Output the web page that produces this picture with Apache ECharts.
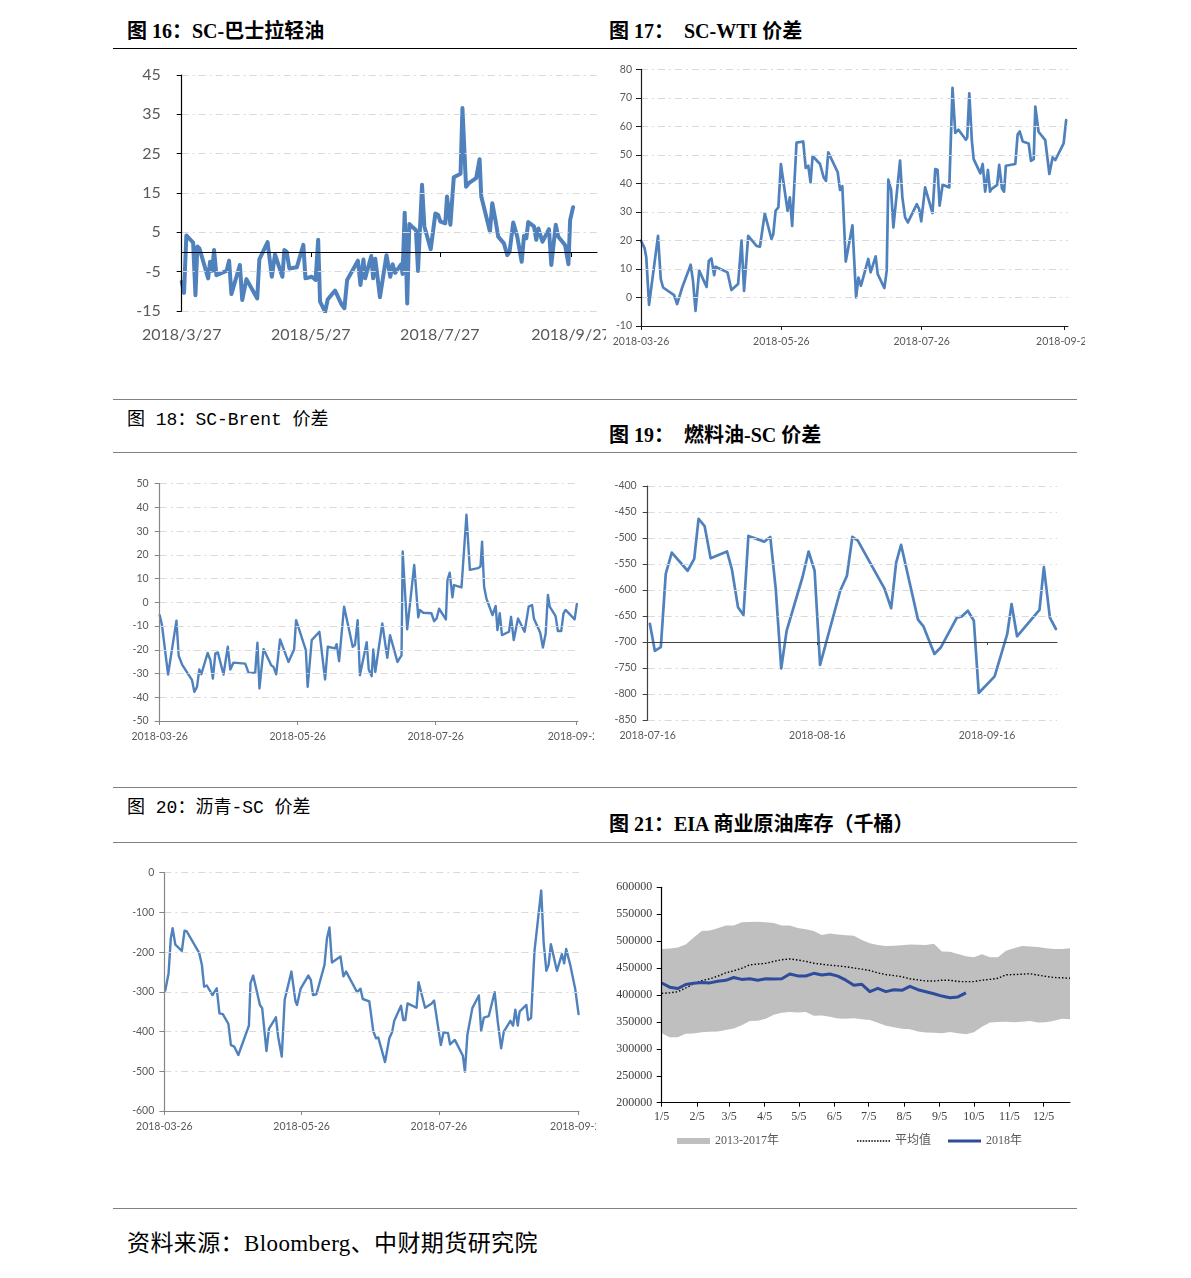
<!DOCTYPE html>
<html><head><meta charset="utf-8">
<script src="https://cdn.jsdelivr.net/npm/echarts@6/dist/echarts.min.js"></script>
<style>
html,body{margin:0;padding:0;background:#fff}
body{width:1191px;height:1278px;position:relative;overflow:hidden}
.t{position:absolute;white-space:nowrap;color:#000;line-height:1}
.tb{font-family:"Liberation Serif","Noto Sans CJK SC",serif;font-weight:bold;font-size:20px}
.tm{font-family:"Liberation Mono","Noto Sans CJK SC",monospace;font-size:18px}
.ft{font-family:"Liberation Serif","Noto Sans CJK SC",serif;font-size:23px;letter-spacing:0.4px}
.rule{position:absolute;left:113px;width:964px;height:0}
.c{position:absolute}
</style></head><body>
<div class="t tb" style="left:127px;top:21px">图 16：SC-巴士拉轻油</div>
<div class="t tb" style="left:609px;top:21px">图 17：&nbsp;&nbsp;SC-WTI 价差</div>
<div class="rule" style="top:48px;border-top:1.5px solid #000"></div>
<div class="rule" style="top:399px;border-top:1.5px solid #808080"></div>
<div class="t tm" style="left:127px;top:411px">图 18：SC-Brent 价差</div>
<div class="t tb" style="left:609px;top:425px">图 19：&nbsp;&nbsp;燃料油-SC 价差</div>
<div class="rule" style="top:452px;border-top:1.7px solid #808080"></div>
<div class="rule" style="top:787px;border-top:1.5px solid #808080"></div>
<div class="t tm" style="left:127px;top:799px">图 20：沥青-SC 价差</div>
<div class="t tb" style="left:609px;top:814px">图 21：EIA 商业原油库存（千桶）</div>
<div class="rule" style="top:842px;border-top:1.7px solid #808080"></div>
<div class="rule" style="top:1208px;border-top:1.7px solid #808080"></div>
<div class="t ft" style="left:127px;top:1232px">资料来源：Bloomberg、中财期货研究院</div>

<div id="c16" class="c" style="left:113px;top:55px;width:493px;height:300px"></div>
<div id="c17" class="c" style="left:606px;top:55px;width:479px;height:300px"></div>
<div id="c18" class="c" style="left:113px;top:460px;width:481px;height:290px"></div>
<div id="c19" class="c" style="left:606px;top:460px;width:480px;height:290px"></div>
<div id="c20" class="c" style="left:113px;top:850px;width:483px;height:290px"></div>
<div id="c21" class="c" style="left:606px;top:860px;width:480px;height:300px"></div>

<script>
// ---------- DATA ----------
// [days since first tick date, value]
const scBasrah = [[0,-7.6],[1.1,-10.4],[2.2,4.2],[5.4,2.4],[6.5,-11],[7.4,1.4],[8.4,0.9],[12.5,-6.7],[13.4,-2.5],[14.4,-4.8],[15.3,0.5],[16.4,-5.9],[21.2,-4.8],[22.4,-2.2],[23.5,-10.7],[27.5,-3.3],[28.6,-12.2],[30.6,-6.9],[35.7,-11.8],[36.7,-1.9],[40.6,2.5],[42.6,-6.3],[44.1,-0.6],[47.6,-6.3],[48.5,0.5],[49.6,0.1],[50.9,-4.2],[54.4,-3.9],[57.5,1.8],[58.5,-6.7],[61.5,-6.3],[63.3,-7.1],[64.5,3.1],[65.4,-12.6],[67.8,-15.2],[69,-12.1],[72.5,-9.8],[75.7,-13.5],[76.9,-14.3],[78.2,-7.1],[83.3,-2.2],[84.5,-8.4],[85.9,-1.9],[86.7,-6.7],[89.6,-1],[90.5,-6.7],[91.5,-1.7],[93.7,-11.5],[96.8,-0.8],[98.6,-6.3],[99.7,-3.1],[100.9,-5.3],[103.8,-3.1],[104.4,-5.6],[105.4,10],[106.6,-13.1],[107.6,7.1],[108.8,6.5],[110.7,5.6],[111.7,-4.8],[113.6,17.1],[114.7,6.5],[117.7,0.7],[119.9,9.8],[121.2,9.4],[122.3,7.7],[124.6,7.3],[125.4,14.1],[127,6.9],[128.6,19],[131.8,19.9],[132.7,36.6],[134.4,16.6],[135.7,17.5],[139.2,18.8],[140.8,23.6],[141.6,14.1],[145.7,5.2],[146.8,12.4],[148.3,8.1],[149.6,3.9],[152.3,2.2],[153.9,-0.8],[155,0.1],[156.7,7.5],[158.6,3.9],[160.7,-2.5],[161.8,4.1],[162.9,3.5],[163.8,7.6],[166.5,6.5],[167.6,3.1],[168.6,6],[170.5,2.6],[173.6,5.8],[174.7,-3.3],[176.8,6.9],[178,3.9],[181.2,1.8],[182.8,-3.1],[183.6,8.1],[185,11.4]];
const scWti = [[0,19.9],[1.6,17.2],[2.3,14],[3.5,-2.6],[7.4,21.6],[8.6,6.4],[9.6,3.5],[14.4,0.8],[15.7,-2.3],[16.5,-1.8],[17.9,3.5],[18.7,3.3],[21.6,11.5],[22.6,5.8],[23.7,-4.7],[25.3,9.4],[28.5,3.7],[29.5,12.9],[30.6,13.7],[31.8,7.8],[32.4,10.8],[37.6,8.8],[39.3,2.6],[42.2,4.7],[43.7,19.9],[44.8,2.3],[46.6,21.6],[50.2,18.1],[51.7,17.8],[53.8,29.5],[56.7,20.5],[57.5,22.2],[58.5,30.4],[59.7,31.6],[60.8,46.8],[63.7,30.4],[64.7,35.1],[65.7,25.1],[67.6,54.3],[70.5,54.7],[71.6,45.4],[72.7,46.2],[73.7,40.4],[74.6,49.6],[77.8,46.8],[79.4,42.1],[80.4,40.9],[81.4,50.9],[85.5,43.9],[86.5,37.7],[87.5,39],[89,12.6],[91.9,25.3],[93.5,0],[94.5,7],[95.6,4.1],[98.8,13.5],[99.8,8.8],[102,14.4],[102.9,8.2],[105.8,3.3],[106.8,9.4],[107.5,41.3],[108.7,37.7],[109.7,24.6],[112.6,48],[113.6,35.1],[114.8,28.1],[116,26.3],[119.9,32.7],[120.9,31],[121.8,26.7],[123.5,38.6],[126.7,29.6],[127.9,45],[128.9,44.8],[129.8,32.2],[131.1,39.5],[134,38.6],[135.4,73.5],[136.6,57.7],[138,58.8],[141.2,55.3],[141.8,56.1],[142.7,71.6],[143.8,55.1],[144.6,48.5],[147.5,43.5],[148.5,46.8],[149.6,37.1],[150.8,44.7],[151.7,37.1],[152.3,38],[154.8,39.5],[155.7,46.5],[156.9,38.2],[157.8,37.1],[158.6,46.2],[162.7,46.8],[163.7,57.1],[164.6,58.2],[165.9,54.7],[168.5,54],[169.5,47.9],[170.7,48.5],[171.4,66.9],[172.8,58.1],[175.7,55.2],[177.5,43.3],[178.9,49.1],[180.1,48.2],[183.7,54],[184.8,62.2]];
const scBrent = [[0,-5.4],[1,-9.6],[3.7,-30.4],[7.4,-7.7],[8.4,-22.5],[9.9,-26.2],[14.3,-32.8],[15.3,-37.7],[16.5,-35.6],[17.5,-28.3],[18.4,-30.3],[21.2,-21.3],[22.4,-24.4],[23.5,-32.1],[24.6,-21.5],[25.7,-21.1],[28.2,-30.4],[30.1,-18.7],[31.2,-28.3],[32.6,-25.4],[37.8,-25.8],[39.3,-29.7],[42.2,-29.6],[43.2,-17],[44.1,-36.3],[45.9,-19.7],[49.3,-26.5],[50.3,-27.2],[51.5,-30.3],[53.2,-15.6],[56.9,-25.1],[59.4,-19.9],[60.3,-7.5],[64.6,-20.1],[65.4,-35.6],[67.2,-15.9],[70.6,-12.4],[73.1,-32.5],[74.3,-18.7],[77.5,-19.4],[78.2,-17.6],[79.3,-24.8],[81.5,-1.8],[85.3,-18.7],[86.3,-18],[87.5,-7.5],[88.5,-30.7],[91.5,-16.8],[92.4,-28.3],[93.7,-31.1],[94.4,-19.9],[95.3,-29.3],[98.4,-8.9],[100.6,-23.4],[101.8,-13.8],[102.5,-14.5],[105.1,-25.1],[106.9,-22.3],[107.4,21.4],[109.4,-11.4],[112.5,15.8],[114.3,-6.3],[115,-3.2],[116.5,-4.4],[120.1,-4.6],[121.3,-7.9],[122.4,-6.8],[123.5,-2.7],[126.5,-7.2],[127.2,9.4],[128.2,12.5],[129.4,2.1],[130.1,7.3],[133.4,6.3],[135.6,36.9],[137.1,13.7],[140.7,14.4],[141.8,15.1],[142.5,25.6],[143.4,6.6],[144.4,1.7],[147.1,-5.4],[148.5,-1.5],[149.3,-11.7],[150.3,-4.6],[151.3,-13.8],[154.4,-12.4],[155.3,-6.1],[156.5,-15.9],[158.4,-6.8],[161.3,-12.4],[163.1,-1.8],[164.6,-1.1],[165.4,-6.8],[168.2,-12.8],[169.4,-19],[170.6,-13.1],[171.6,3.1],[172.4,-1.8],[175,-5.8],[176,-12.1],[177.5,-12.1],[178.5,-4.6],[179.4,-3.2],[183.4,-7.2],[184.4,-0.7]];
const fuelSc = [[0.4,-665],[1.3,-717],[2.4,-710],[3.3,-569],[4.4,-528],[7.3,-563],[8.5,-540],[9.3,-463],[10.4,-477],[11.5,-539],[14.5,-526],[15.4,-561],[16.5,-633],[17.5,-648],[18.4,-496],[21.3,-507],[22.4,-498],[23.4,-598],[24.4,-751],[25.4,-678],[28.3,-575],[29.4,-526],[30.5,-563],[31.5,-744],[35.2,-601],[36.4,-573],[37.4,-498],[38.4,-505],[43.3,-598],[44.5,-635],[45.4,-548],[46.3,-513],[49.4,-657],[50.4,-670],[52.4,-723],[53.6,-710],[56.5,-653],[57.4,-651],[58.5,-640],[59.6,-659],[60.5,-798],[63.4,-766],[65.7,-685],[66.5,-627],[67.5,-689],[71.6,-638],[72.4,-556],[73.5,-653],[74.6,-675]];
const asphaltSc = [[0.4,-297],[1.9,-253],[2.9,-165],[3.7,-140],[4.9,-181],[7.8,-197],[9,-146],[10,-148],[15.5,-202],[16.7,-232],[17.7,-287],[18.9,-284],[21.4,-308],[23.3,-291],[24.5,-354],[26,-356],[28.5,-381],[29.6,-434],[31.1,-438],[32.9,-459],[37.6,-385],[38.3,-278],[39.5,-259],[42.5,-333],[43.5,-341],[45.4,-449],[46.5,-393],[49.6,-364],[50.6,-413],[51.3,-408],[52.2,-463],[53.5,-320],[56.5,-249],[58.3,-324],[59,-333],[60.6,-292],[64,-259],[65.1,-270],[66.1,-308],[67.6,-306],[71.2,-232],[72.3,-165],[73.4,-138],[74.5,-226],[78.3,-211],[79.6,-261],[80.8,-249],[85.7,-301],[87.2,-292],[88.2,-318],[91.1,-324],[92.9,-400],[94.1,-417],[95.1,-415],[98.1,-477],[100,-417],[101.2,-402],[102.2,-373],[105.2,-335],[106.2,-371],[107.1,-371],[108.1,-329],[112.1,-340],[113,-276],[115.9,-340],[118.7,-330],[119.9,-322],[122.9,-434],[124.1,-402],[126.1,-404],[127,-432],[129.1,-421],[132.7,-461],[133.6,-501],[134.7,-408],[136.9,-341],[139.8,-309],[140.8,-398],[142,-365],[144.2,-361],[146.8,-301],[148.2,-375],[149.7,-442],[150.9,-400],[153.8,-373],[155,-385],[156,-345],[157.1,-385],[157.9,-350],[160.9,-333],[161.7,-371],[163,-366],[164.5,-198],[167.5,-45],[168.6,-177],[169.8,-247],[170.8,-232],[171.8,-180],[174.5,-247],[176.7,-205],[177.7,-228],[178.6,-192],[180.4,-232],[182.6,-292],[184.1,-356]];

// EIA weekly (week index from 1/5)
const eiaMax2013_2017 = [485400,486500,488000,494000,507000,519000,520000,524000,529000,529000,535000,535500,536000,535000,533500,529000,529000,524500,522000,519000,511500,514000,512500,511000,510000,502000,496000,493000,491000,491500,492300,494000,493500,493000,495000,481000,480500,476000,472000,470000,475500,470000,470000,482000,487000,491000,490000,489000,487000,485500,485500,486700];
const eiaMin2013_2017 = [328800,321400,321400,328000,328500,331000,331900,332000,335000,338000,343700,351500,352300,356000,363500,367200,368400,367500,368400,361600,361800,359500,356500,356000,356600,355000,353400,348600,343000,340000,337500,336300,332000,330500,330000,328800,331500,329000,326900,331000,341000,349000,350000,350400,349500,350500,351700,349000,349500,352000,356000,354800];
const eiaAvg = [403100,404000,406000,413000,421000,426800,430000,435000,441000,445000,449500,456000,457500,458800,462500,465500,467000,465000,462500,459000,457000,455500,454000,452500,450200,448000,445500,441000,438000,436000,434000,430000,428000,426000,426000,427500,427500,425000,424800,424800,427500,429000,431000,437500,438000,438500,439500,437000,434500,432500,432000,431000];
const eia2018 = [422300,414500,412000,419500,421800,423000,422500,425500,427200,432500,429000,430300,427500,430000,429500,430300,439000,435500,435300,440300,437200,439000,435000,427500,418000,419800,406200,412400,406200,409600,408700,416100,409800,406000,402300,398000,395000,396500,404000];

// tick positions (days) and labels
const ticks26 = [0,61,122,184];
const labels16 = ['2018/3/27','2018/5/27','2018/7/27','2018/9/27'];
const labels26 = ['2018-03-26','2018-05-26','2018-07-26','2018-09-26'];
const ticks19 = [0,31,62];
const labels19 = ['2018-07-16','2018-08-16','2018-09-16'];
const ticks21 = [0,31,59,90,120,151,181,212,243,273,304,334];
const labels21 = ['1/5','2/5','3/5','4/5','5/5','6/5','7/5','8/5','9/5','10/5','11/5','12/5'];

// ---------- CHARTS ----------
const BLUE = '#4f81bd';
const GRIDLINE = {color:'#d9d9d9', width:1, type:[7,4,2,4]};

function mk(id, c){
  const ch = echarts.init(document.getElementById(id), null, {renderer:'canvas'});
  const lab = {color:c.labColor||'#595959', fontFamily:c.font||'Lato', fontSize:c.fs||10.5};
  const fmt = v => { const i = c.ticks.indexOf(Math.round(v)); return i>=0 ? c.labels[i] : ''; };
  const xAxes = [{
    type:'value', min:0, max:c.xmax, position:'bottom', z:10,
    axisLine:{show:!c.midAxis, onZero:false, lineStyle:{color:c.axisColor,width:1}},
    axisTick:{show:!c.midAxis, customValues:c.ticks, length:4, lineStyle:{color:c.axisColor}},
    axisLabel:Object.assign({customValues:c.ticks, formatter:fmt, margin:c.xm, showMinLabel:true, showMaxLabel:true}, lab),
    splitLine:{show:false}
  }];
  if (c.midAxis) {
    xAxes.push({
      type:'value', min:0, max:c.xmax, position:'bottom', offset:c.midOffset||0, z:10,
      axisLine:{show:true, onZero:c.midOffset===undefined, lineStyle:{color:c.axisColor,width:1.2}},
      axisTick:{show:true, customValues:c.ticks, length:c.midTick||4, lineStyle:{color:c.axisColor}},
      axisLabel:{show:false}, splitLine:{show:false}
    });
  }
  const opt = {
    animation:false,
    grid:Object.assign({outerBoundsMode:'none', containLabel:false}, c.grid),
    xAxis:xAxes,
    yAxis:{
      type:'value', min:c.ymin, max:c.ymax, interval:c.yint, z:10,
      axisLine:{show:true, onZero:false, lineStyle:{color:c.axisColor,width:1.2}},
      axisTick:{show:true, length:5, lineStyle:{color:c.axisColor}},
      axisLabel:Object.assign({margin:c.ym, formatter:v=>String(v)}, lab),
      splitLine:{show:c.split!==false, lineStyle:GRIDLINE}
    },
    series:c.series
  };
  if (c.legend) opt.legend = c.legend;
  ch.setOption(opt);
}

function lineSeries(data, width){
  return {type:'line', data:data, symbol:'none', xAxisIndex:0,
    lineStyle:{color:BLUE, width:width, join:'round', cap:'round'}, itemStyle:{color:BLUE}};
}

mk('c16', {grid:{left:68.7, top:20, width:415.3, height:236},
  xmax:196.3, ticks:ticks26, labels:labels16, xm:16, midAxis:true, midTick:5,
  ymin:-15, ymax:45, yint:10, ym:21, fs:16, axisColor:'#000',
  series:[lineSeries(scBasrah, 4)]});

mk('c17', {grid:{left:35, top:14.3, width:427, height:256.7},
  xmax:185.6, ticks:ticks26, labels:labels26, xm:10, 
  ymin:-10, ymax:80, yint:10, ym:9, axisColor:'#1a1a1a',
  series:[lineSeries(scWti, 2.7)]});

mk('c18', {grid:{left:46.7, top:23.7, width:418.3, height:237.3},
  xmax:184.9, ticks:ticks26, labels:labels26, xm:10,
  ymin:-50, ymax:50, yint:10, ym:11, axisColor:'#868686',
  series:[lineSeries(scBrent, 2.4)]});

mk('c19', {grid:{left:41.7, top:26, width:409.3, height:234},
  xmax:74.8, ticks:ticks19, labels:labels19, xm:10, midAxis:true, midOffset:-78, midTick:3,
  ymin:-850, ymax:-400, yint:50, ym:11, axisColor:'#404040',
  series:[lineSeries(fuelSc, 2.7)]});

mk('c20', {grid:{left:51.3, top:22.7, width:414.7, height:238.3},
  xmax:184.3, ticks:ticks26, labels:labels26, xm:10,
  ymin:-600, ymax:0, yint:100, ym:10, axisColor:'#868686',
  series:[lineSeries(asphaltSc, 2.4)]});

// EIA chart
const wk = i => i*7;
const upData = eiaMax2013_2017.map((v,i)=>[wk(i), v]);
const lowData = eiaMin2013_2017.map((v,i)=>[wk(i), v]);
const avgData = eiaAvg.map((v,i)=>[wk(i), v]);
const y18Data = eia2018.map((v,i)=>[wk(i), v]);
const legTxt = {color:'#595959', fontFamily:'Liberation Serif, Noto Sans CJK SC', fontSize:12};
const dots = 'path://' + Array.from({length:12},(_,k)=>'M'+(k*3)+' 0h1.6v1.6h-1.6z').join(' ');
mk('c21', {grid:{left:55.7, top:27.3, width:408.3, height:215.4},
  xmax:357, ticks:ticks21, labels:labels21, xm:8, font:'Liberation Serif', fs:12, labColor:'#404040',
  ymin:200000, ymax:600000, yint:50000, ym:9.5, axisColor:'#000', split:false,
  series:[
    {name:'2013-2017年', type:'line', data:upData, symbol:'none', silent:true, z:1,
     lineStyle:{width:0, opacity:0}, areaStyle:{color:'#bfbfbf', opacity:1, origin:'start'}, itemStyle:{color:'#bfbfbf'}},
    {name:'low', type:'line', data:lowData, symbol:'none', silent:true, z:1,
     lineStyle:{width:0, opacity:0}, areaStyle:{color:'#ffffff', opacity:1, origin:'start'}, itemStyle:{color:'#ffffff'}},
    {name:'平均值', type:'line', data:avgData, symbol:'none', z:3,
     lineStyle:{color:'#000', width:1.4, type:[1.5,2]}, itemStyle:{color:'#000'}},
    {name:'2018年', type:'line', data:y18Data, symbol:'none', z:4,
     lineStyle:{color:'#2e4c9b', width:3, join:'round'}, itemStyle:{color:'#2e4c9b'}}
  ],
  legend:[
    {data:[{name:'2013-2017年', icon:'rect'}], left:71, top:275, padding:0, itemWidth:33, itemHeight:6, textStyle:legTxt, selectedMode:false},
    {data:[{name:'平均值', icon:dots}], left:251, top:275, padding:0, itemWidth:33, itemHeight:1.6, textStyle:legTxt, selectedMode:false},
    {data:[{name:'2018年', icon:'rect'}], left:342, top:275, padding:0, itemWidth:33, itemHeight:3, textStyle:legTxt, selectedMode:false}
  ]});
</script>
</body></html>
